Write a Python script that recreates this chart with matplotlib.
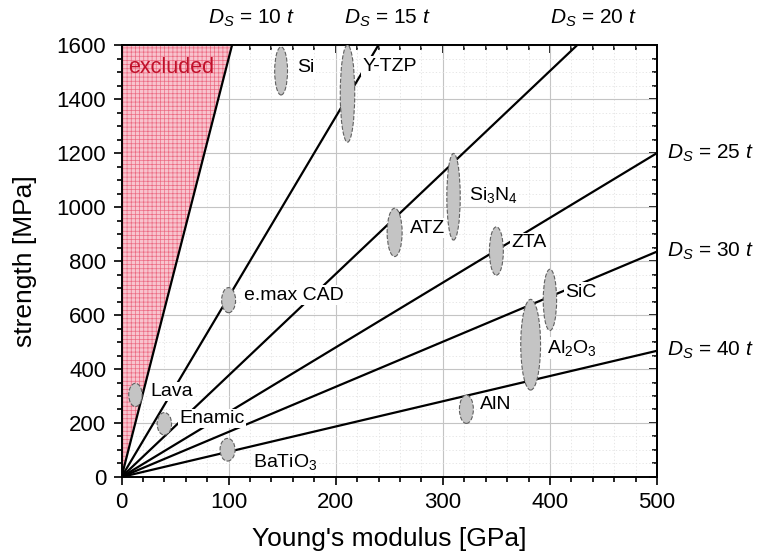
import matplotlib
matplotlib.use("Agg")
import matplotlib.pyplot as plt
import matplotlib.patches as patches
from matplotlib.ticker import MultipleLocator
import numpy as np

plt.rcParams['font.family'] = ['Liberation Sans', 'DejaVu Sans']
plt.rcParams['mathtext.fontset'] = 'custom'
plt.rcParams['mathtext.rm'] = 'Liberation Sans'
plt.rcParams['mathtext.it'] = 'Liberation Sans:italic'
plt.rcParams['hatch.linewidth'] = 0.5

# materials: Young's modulus [GPa] vs strength [MPa], with scatter ranges
materials = ["Si", "Y-TZP", "Si$_3$N$_4$", "ATZ", "ZTA", "SiC", "Al$_2$O$_3$",
             "AlN", "e.max CAD", "Lava", "Enamic", "BaTiO$_3$"]
modulus = [149, 211, 310, 255, 350, 400, 382, 322, 100, 13, 40, 99]
strength = [1504, 1420, 1038, 906, 837, 656, 490, 251, 655, 304, 197, 101]
modulus_range = [12, 13.5, 12.5, 14, 13, 12.5, 18.5, 13, 13, 12.5, 13.5, 14]
strength_range = [178, 360, 321, 179, 179, 227, 336, 105, 93, 86, 83, 84]
label_x = [164, 225, 324, 269, 364, 414, 397, 335, 114, 27, 54, 123]
label_y = [1515, 1522, 1044, 922, 867, 685, 478, 267, 674, 316, 217, 57]

# design lines: strength/modulus slope for each D_S
ds_values = [10, 15, 20, 25, 30, 40]
ds_slopes = [15.5, 6.67, 3.76, 2.4, 1.67, 0.935]

x_max, y_max = 500, 1600

fig = plt.figure(figsize=(7.58, 5.56), dpi=100)
ax = fig.add_axes([0.1603, 0.1421, 0.7065, 0.7769])

# excluded region left of the D_S = 10 t line
x_top = y_max / ds_slopes[0]
excl = patches.Polygon([(0, 0), (0, y_max), (x_top, y_max)], closed=True,
                       facecolor='#f8c4ce', edgecolor='#ec6a82', hatch='++++',
                       linewidth=0, zorder=1)
ax.add_patch(excl)
ax.text(6, 1515, "excluded", color='#c0102a', fontsize=15.5, va='center',
        ha='left', zorder=2)

top_shift = [18, 8, 15]
for i, (d, k) in enumerate(zip(ds_values, ds_slopes)):
    xs = np.array([0, min(x_max, y_max / k)])
    ax.plot(xs, k * xs, color='black', lw=1.6, zorder=3, solid_capstyle='butt')
    if y_max / k <= x_max:
        ax.text(y_max / k + top_shift[i], 1700,
                "$D_S$ = %d $t$" % d, fontsize=15, ha='center', va='center',
                clip_on=False)
    else:
        ax.text(509, k * x_max, "$D_S$ = %d $t$" % d, fontsize=15,
                ha='left', va='center', clip_on=False)

for name, e, s, we, hs, lx, ly in zip(materials, modulus, strength,
                                      modulus_range, strength_range,
                                      label_x, label_y):
    el = patches.Ellipse((e, s), we, hs, facecolor='#c4c4c4',
                         edgecolor='#606060', linewidth=0.8, linestyle='--',
                         zorder=5)
    ax.add_patch(el)
    ax.text(lx, ly, name, fontsize=14, ha='left', va='center', zorder=4,
            bbox=dict(facecolor='white', edgecolor='none', pad=0.8))

ax.set_xlim(0, x_max)
ax.set_ylim(0, y_max)
ax.xaxis.set_major_locator(MultipleLocator(100))
ax.xaxis.set_minor_locator(MultipleLocator(20))
ax.yaxis.set_major_locator(MultipleLocator(200))
ax.yaxis.set_minor_locator(MultipleLocator(50))
ax.grid(which='major', color='#c4c4c4', lw=0.8, zorder=0)
ax.grid(which='minor', color='#e2e2e2', lw=0.6, ls=(0, (1.5, 2.5)), zorder=0)
ax.set_axisbelow(True)

ax.tick_params(which='both', direction='out', labelsize=16, width=1.2,
               top=False, right=False, pad=5)
ax.tick_params(which='major', length=6)
ax.tick_params(which='minor', length=3.5)
ax2 = ax.secondary_xaxis('top')
ax2.xaxis.set_major_locator(MultipleLocator(100))
ax2.xaxis.set_minor_locator(MultipleLocator(20))
ax2.tick_params(which='both', direction='in', labeltop=False, width=1.2)
ax2.tick_params(which='major', length=6)
ax2.tick_params(which='minor', length=3.5)
ay2 = ax.secondary_yaxis('right')
ay2.yaxis.set_major_locator(MultipleLocator(200))
ay2.yaxis.set_minor_locator(MultipleLocator(50))
ay2.tick_params(which='both', direction='in', labelright=False, width=1.2)
ay2.tick_params(which='major', length=6)
ay2.tick_params(which='minor', length=3.5)
for sp in list(ax.spines.values()) + [ax2.spines['top'], ay2.spines['right']]:
    sp.set_linewidth(1.4)

ax.set_xlabel("Young's modulus [GPa]", fontsize=19, labelpad=10)
ax.set_ylabel("strength [MPa]", fontsize=19, labelpad=14)

fig.savefig("out.png", dpi=100)
